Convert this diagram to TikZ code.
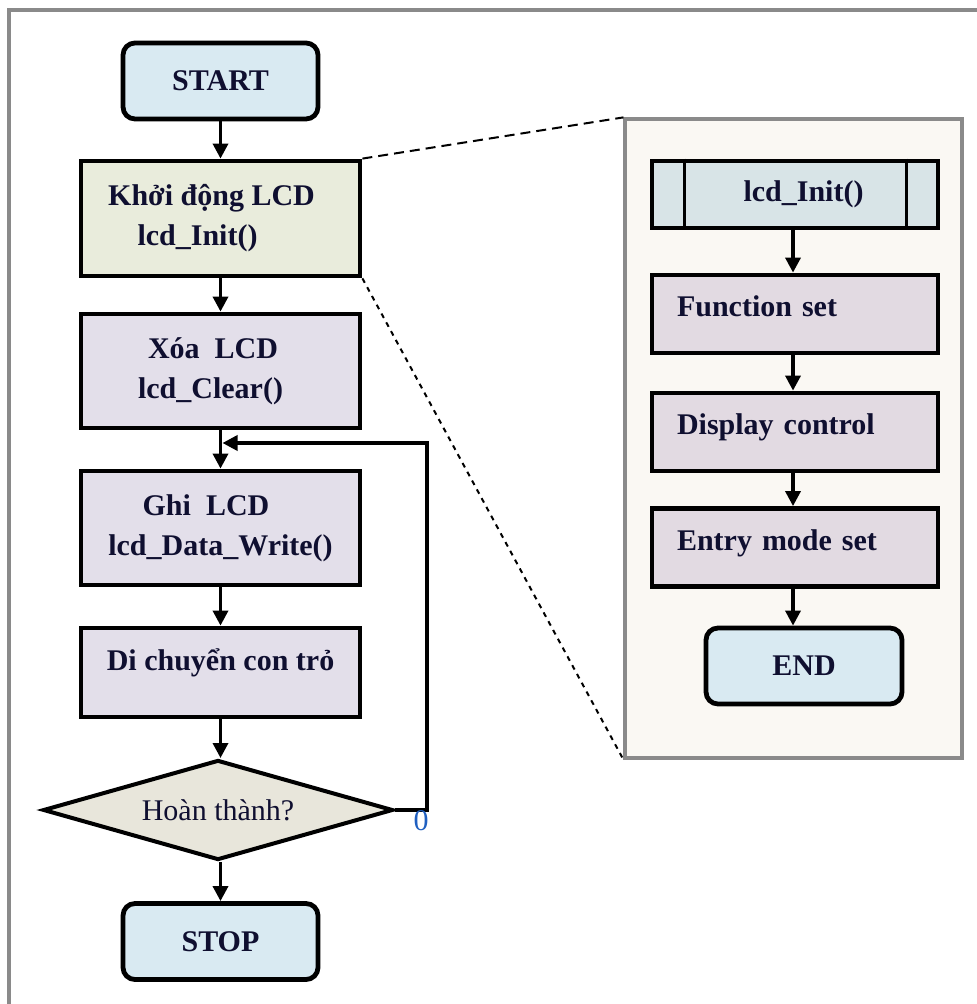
\documentclass[tikz,border=0pt]{standalone}
\usepackage{fontspec}
\setmainfont{Liberation Serif}
\usetikzlibrary{shapes.geometric,arrows.meta}

\definecolor{termfill}{HTML}{D9EAF2}
\definecolor{initfill}{HTML}{E9ECDC}
\definecolor{procfill}{HTML}{E3DFEA}
\definecolor{decfill}{HTML}{E8E6DB}
\definecolor{panelfill}{HTML}{FAF8F3}
\definecolor{subfill}{HTML}{D8E4E7}
\definecolor{rprocfill}{HTML}{E2DAE2}
\definecolor{framegray}{HTML}{8A8A8A}
\definecolor{inkc}{HTML}{0F0F30}
\definecolor{zeroc}{HTML}{1F5FC0}

\tikzset{
  boxbase/.style={draw=black, line width=2.4pt, text=inkc, inner sep=0pt,
    font=\fontsize{15pt}{20pt}\selectfont\bfseries},
  term/.style={boxbase, rectangle, rounded corners=6pt, fill=termfill,
    minimum width=97.5pt, minimum height=38pt},
  proc/.style={boxbase, rectangle, fill=procfill, align=center,
    minimum width=139.5pt, minimum height=57pt},
  decision/.style={draw=black, line width=2pt, diamond, aspect=3.55, fill=decfill,
    inner sep=0pt, text=inkc, minimum width=175pt, minimum height=50pt,
    font=\fontsize{15pt}{20pt}\selectfont},
  rproc/.style={boxbase, rectangle, fill=rprocfill, align=left,
    text width=118pt, inner xsep=12.5pt, minimum height=39pt,
    text height=11pt, text depth=8pt},
  panelbox/.style={draw=framegray, line width=1.6pt, fill=panelfill,
    rectangle, inner sep=0pt},
  conn/.style={line width=1.7pt, -{Triangle[width=7.5pt,length=7.5pt]}},
  zoomline/.style={line width=1pt, black},
}

\begin{document}
\begin{tikzpicture}[x=0.5pt,y=-0.5pt]
\useasboundingbox (0,0) rectangle (976,1004);

% page frame (right and bottom edges fall outside the page)
\draw[framegray, line width=2pt] (8.5,10) rectangle (990,1030);

% ---------------- main flow ----------------
\node[term] (start) at (220.5,81) {START};
\node[proc, fill=initfill, minimum height=57.5pt] (init) at (220.5,218.5)
  {Khởi động LCD\hspace*{9pt}\\lcd\_Init()\hspace*{23pt}};
\node[proc] (clear) at (220.5,371)
  {Xóa~ LCD\hspace*{7.5pt}\\lcd\_Clear()\hspace*{10pt}};
\node[proc] (write) at (220.5,528)
  {Ghi~ LCD\hspace*{14.5pt}\\lcd\_Data\_Write()};
\node[proc, minimum height=44.5pt, text height=11pt, text depth=13pt] (move) at (220.5,672.5)
  {Di chuyển con trỏ};
\node[decision] (check) at (218,810) {Hoàn thành?};
\node[term] (stop) at (220.5,941.5) {STOP};

\draw[conn] (start) -- (init);
\draw[conn] (init) -- (clear);
\draw[conn] (clear) -- (write);
\draw[conn] (write) -- (move);
\draw[conn] (move) -- (move.south |- check.north);
\draw[conn] (check.south -| stop.north) -- (stop);

% loop back when not finished
\coordinate (loopturn) at (427,810);
\coordinate (loopin) at (222.5,443);
\draw[conn] (check.east) -- (loopturn) |- (loopin);
\node[text=zeroc, inner sep=0pt, font=\fontsize{15pt}{18pt}\selectfont] (zero) at (421,821) {0};

% ---------------- detail of lcd_Init() ----------------
\node[panelbox, minimum width=168.5pt, minimum height=319.5pt] (panel) at (793.5,438.5) {};

\node[boxbase, rectangle, fill=subfill, minimum width=143pt, minimum height=33.5pt]
  (sub) at (795,194.5) {\hspace*{8.5pt}lcd\_Init()};
\draw[line width=1.5pt] ([xshift=17.5pt]sub.north west) -- ([xshift=17.5pt]sub.south west);
\draw[line width=1.5pt] ([xshift=-17pt]sub.north east) -- ([xshift=-17pt]sub.south east);

\node[rproc] (fset) at (795,314) {Function set};
\node[rproc] (dctl) at (795,432) {Display control};
\node[rproc] (emode) at (795,547.5) {Entry mode set};
\node[term, minimum width=98pt] (finish) at (804,666) {END};

\draw[conn] ([xshift=-1pt]sub.south) -- ([xshift=-1pt]fset.north);
\draw[conn] ([xshift=-1pt]fset.south) -- ([xshift=-1pt]dctl.north);
\draw[conn] ([xshift=-1pt]dctl.south) -- ([xshift=-1pt]emode.north);
\draw[conn] ([xshift=-1pt]emode.south) -- ([xshift=-1pt]emode.south |- finish.north);

% zoom guides
\draw[zoomline, dash pattern=on 5pt off 3pt] (init.north east) -- (panel.north west);
\draw[zoomline, dash pattern=on 2.5pt off 2.5pt] (init.south east) -- (panel.south west);
\end{tikzpicture}
\end{document}
